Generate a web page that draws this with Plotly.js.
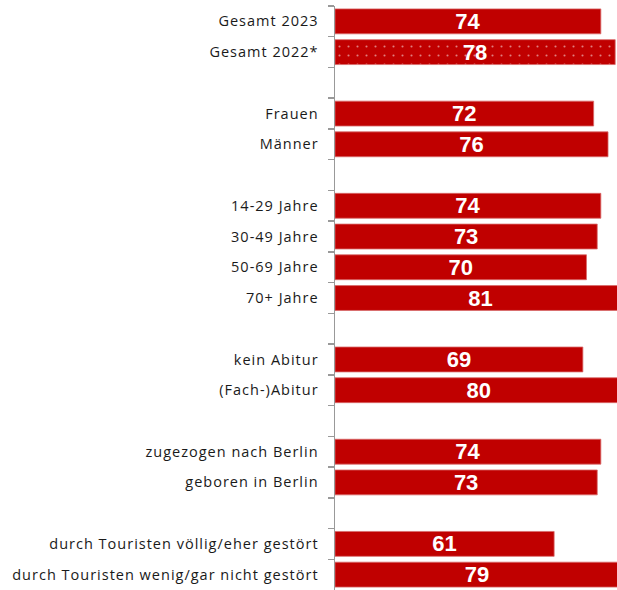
<!DOCTYPE html>
<html>
<head>
<meta charset="utf-8">
<script src="https://cdn.plot.ly/plotly-3.0.1.min.js"></script>
<style>
html,body{margin:0;padding:0;background:#fff;}
#chart{width:617px;height:590px;}
#chart .ytick text{letter-spacing:1px;}
</style>
</head>
<body>
<div id="chart"></div>
<script>
const categories = [
  "Gesamt 2023", "Gesamt 2022*", " ",
  "Frauen", "Männer", "  ",
  "14-29 Jahre", "30-49 Jahre", "50-69 Jahre", "70+ Jahre", "   ",
  "kein Abitur", "(Fach-)Abitur", "    ",
  "zugezogen nach Berlin", "geboren in Berlin", "     ",
  "durch Touristen völlig/eher gestört", "durch Touristen wenig/gar nicht gestört"
];
const values = [74, 78, null, 72, 76, null, 74, 73, 70, 81, null, 69, 80, null, 74, 73, null, 61, 79];
const labels = values.map(v => v === null ? "" : String(v));
const dotted = categories.map(c => c === "Gesamt 2022*" ? "." : "");

const trace = {
  type: "bar",
  orientation: "h",
  y: categories,
  x: values,
  text: labels,
  textposition: "inside",
  insidetextanchor: "middle",
  textangle: 0,
  constraintext: "none",
  cliponaxis: true,
  textfont: {family: "Arial, Liberation Sans, sans-serif", size: 22, color: "#ffffff", weight: "bold"},
  marker: {
    color: "#C00000",
    line: {color: "#d86a6a", width: 0.8},
    pattern: {shape: dotted, fgcolor: "#ffffff", bgcolor: "#C00000", size: 9, solidity: 0.045, fillmode: "overlay"}
  },
  hoverinfo: "none"
};

const layout = {
  width: 617, height: 590,
  margin: {l: 335, r: 0, t: 6, b: 0},
  paper_bgcolor: "#ffffff", plot_bgcolor: "#ffffff",
  bargap: 0.19,
  showlegend: false,
  xaxis: {range: [0, 78.5], visible: false, fixedrange: true},
  yaxis: {
    type: "category",
    autorange: "reversed",
    tickson: "boundaries",
    ticks: "outside", ticklen: 6, tickcolor: "#999999", tickwidth: 1.5,
    showline: true, linecolor: "#999999", linewidth: 1.5,
    showgrid: false, zeroline: false,
    ticklabelstandoff: 12,
    tickfont: {family: "Open Sans, sans-serif", size: 14.5, color: "#1a1a1a"}
  }
};

Plotly.newPlot("chart", [trace], layout, {staticPlot: true});
</script>
</body>
</html>
